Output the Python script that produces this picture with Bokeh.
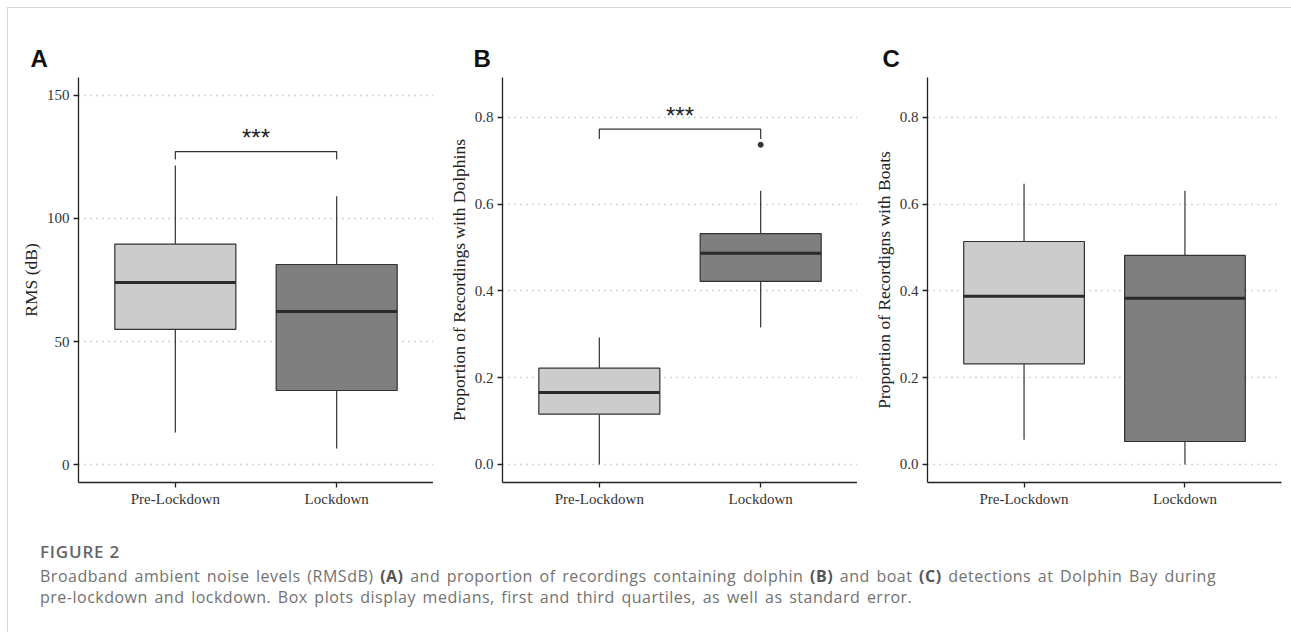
from bokeh.plotting import figure
from bokeh.models import FixedTicker, Title, Div, PrintfTickFormatter, Range1d
from bokeh.layouts import row, column
from bokeh.embed import file_html
from bokeh.resources import INLINE
from bokeh.core.properties import value

# ---------------- data ----------------
categories = ["Pre-Lockdown", "Lockdown"]
box_colors = ["#cccccc", "#7f7f7f"]

# Panel A: RMS (dB)
rms_low = [13.0, 6.5]
rms_q1 = [54.9, 30.1]
rms_median = [74.0, 62.2]
rms_q3 = [89.6, 81.3]
rms_high = [121.5, 109.0]
rms_ticks = [0, 50, 100, 150]
rms_bracket = [124.0, 127.2]   # bracket foot, bracket top

# Panel B: proportion of recordings with dolphins
dol_low = [0.0, 0.316]
dol_q1 = [0.116, 0.422]
dol_median = [0.166, 0.487]
dol_q3 = [0.222, 0.532]
dol_high = [0.293, 0.631]
dol_outlier_cat = ["Lockdown"]
dol_outlier_val = [0.737]
dol_bracket = [0.750, 0.773]

# Panel C: proportion of recordings with boats
boat_low = [0.057, 0.0]
boat_q1 = [0.232, 0.053]
boat_median = [0.388, 0.383]
boat_q3 = [0.514, 0.482]
boat_high = [0.647, 0.631]

prop_ticks = [0.0, 0.2, 0.4, 0.6, 0.8]
sig_label = "***"

caption_title = "FIGURE 2"
caption_line1 = ["Broadband ambient noise levels (RMSdB) ", "(A)",
                 " and proportion of recordings containing dolphin ", "(B)",
                 " and boat ", "(C)", " detections at Dolphin Bay during"]
caption_line2 = "pre-lockdown and lockdown. Box plots display medians, first and third quartiles, as well as standard error."

# ---------------- styling ----------------
SERIF = "Liberation Serif"
SANS = "Liberation Sans"
BOX_W = 0.75
INK = "#333333"


def make_panel(letter, ylabel, low, q1, med, q3, high, yrange, ticks, fmt,
               border_left, frame_w, border_right, letter_dx,
               bracket=None, outlier=None):
    xs = list(range(1, len(categories) + 1))
    p = figure(x_range=Range1d(0.4, 2.6), y_range=Range1d(*yrange),
               frame_width=frame_w, frame_height=405,
               min_border_left=border_left, min_border_right=border_right,
               min_border_top=69, min_border_bottom=38,
               output_backend="svg", toolbar_location=None,
               background_fill_color="white", border_fill_color="white")
    p.title = Title(text=letter, align="left", offset=letter_dx,
                    text_font=SANS, text_font_style="bold",
                    text_font_size="24px", text_color="#111111", standoff=11)
    p.outline_line_color = None
    p.xgrid.grid_line_color = None
    p.ygrid.grid_line_color = "#a8a8a8"
    p.ygrid.grid_line_dash = "1 5"
    p.ygrid.grid_line_width = 1.4
    p.ygrid.ticker = FixedTicker(ticks=ticks)

    for ax in (p.xaxis[0], p.yaxis[0]):
        ax.axis_line_color = "#222222"
        ax.axis_line_width = 1.3
        ax.major_tick_line_color = "#222222"
        ax.major_tick_line_width = 1.3
        ax.major_tick_out = 5
        ax.major_tick_in = 0
        ax.minor_tick_line_color = None
        ax.major_label_text_font = SERIF
        ax.major_label_text_font_size = "15px"
        ax.major_label_text_color = "#333333"

    p.xaxis.ticker = FixedTicker(ticks=xs)
    p.xaxis.major_label_overrides = {x: c for x, c in zip(xs, categories)}
    p.xaxis.major_label_standoff = 3

    p.yaxis.ticker = FixedTicker(ticks=ticks)
    p.yaxis.formatter = PrintfTickFormatter(format=fmt)
    p.yaxis.major_label_standoff = 4
    p.yaxis.axis_label = ylabel
    p.yaxis.axis_label_text_font = SERIF
    p.yaxis.axis_label_text_font_size = "17.5px"
    p.yaxis.axis_label_text_font_style = "normal"
    p.yaxis.axis_label_text_color = "#222222"
    p.yaxis.axis_label_standoff = 3

    # whiskers
    p.segment(x0=xs, x1=xs, y0=q3, y1=high, line_color=INK, line_width=1.2)
    p.segment(x0=xs, x1=xs, y0=low, y1=q1, line_color=INK, line_width=1.2)
    # boxes
    p.vbar(x=xs, width=BOX_W, bottom=q1, top=q3, fill_color=box_colors,
           line_color=INK, line_width=1.2)
    # medians
    p.segment(x0=[x - BOX_W / 2 for x in xs], x1=[x + BOX_W / 2 for x in xs],
              y0=med, y1=med, line_color="#2a2a2a", line_width=3)

    if outlier is not None:
        ocats, ovals = outlier
        ox = [xs[categories.index(c)] for c in ocats]
        p.scatter(x=ox, y=ovals, size=5, fill_color=INK, line_color=INK)

    if bracket is not None:
        foot, top = bracket
        p.line(x=[xs[0], xs[0], xs[1], xs[1]], y=[foot, top, top, foot],
               line_color=INK, line_width=1.2)
        p.text(x=[(xs[0] + xs[1]) / 2], y=[top], text=[sig_label],
               text_font=value(SANS), text_font_size="24px",
               text_color="#222222", text_align="center",
               text_baseline="alphabetic", y_offset=-14)
    return p


pA = make_panel("A", "RMS (dB)", rms_low, rms_q1, rms_median, rms_q3, rms_high,
                (-7.3, 157.3), rms_ticks, "%d", 70, 355, 0, -48,
                bracket=rms_bracket)
pB = make_panel("B", "Proportion of Recordings with Dolphins", dol_low, dol_q1,
                dol_median, dol_q3, dol_high, (-0.0415, 0.892), prop_ticks,
                "%.1f", 69, 355, 0, -29, bracket=dol_bracket,
                outlier=(dol_outlier_cat, dol_outlier_val))
pC = make_panel("C", "Proportion of Recordigns with Boats", boat_low, boat_q1,
                boat_median, boat_q3, boat_high, (-0.0415, 0.892), prop_ticks,
                "%.1f", 70, 354, 2, -45)

parts = []
for i, s in enumerate(caption_line1):
    if i % 2 == 1:
        parts.append('<b style="font-weight:700;color:#555">%s</b>' % s)
    else:
        parts.append(s)
line1 = "".join(parts)

html = (
    '<div style="font-family:\'Open Sans\',sans-serif;color:#727272;'
    'white-space:nowrap;padding-left:27px;padding-top:16px;">'
    '<div style="font-size:17px;line-height:22px;font-weight:600;'
    'letter-spacing:0.8px;color:#666;margin-bottom:3px;">%s</div>'
    '<div style="font-size:16px;line-height:20.5px;letter-spacing:0.5px;'
    'word-spacing:2px;">%s<br>%s</div></div>' % (caption_title, line1, caption_line2)
)
caption = Div(text=html, width=1275, height=102)

layout = column(row(pA, pB, pC), caption, margin=(7, 0, 0, 7),
                styles={"border-top": "1px solid #d6d6d6",
                        "border-left": "1px solid #d6d6d6"})

open("out.html", "w").write(file_html(layout, INLINE))
